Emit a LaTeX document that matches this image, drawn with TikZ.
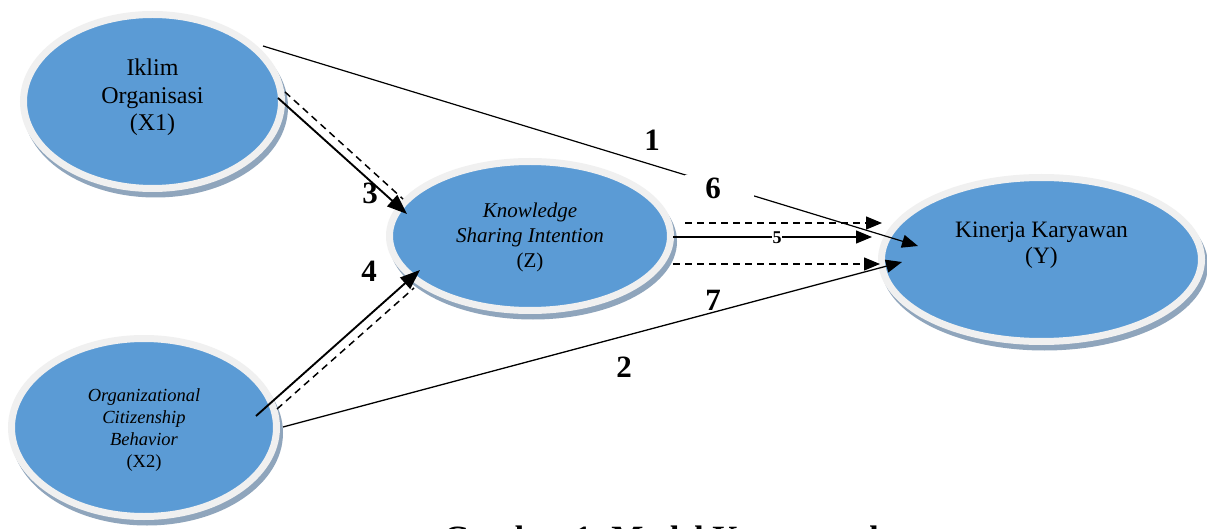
\documentclass[tikz,border=0pt]{standalone}
\usepackage{fontspec}
\setmainfont{Liberation Serif}
\usetikzlibrary{arrows.meta,shapes.geometric,calc}
\definecolor{ovalblue}{HTML}{5B9BD5}
\definecolor{rimgray}{HTML}{F0F0F0}
\definecolor{shadowc}{HTML}{8FA5BC}
\begin{document}
\begin{tikzpicture}[x=1pt,y=-1pt,
  oval/.style={ellipse, fill=ovalblue, draw=rimgray, line width=7pt, inner sep=0pt, outer sep=0pt},
  shadowfill/.style={fill=shadowc},
  txt/.style={align=center, inner sep=0pt, text=black},
  numlab/.style={inner sep=0pt, font=\fontsize{31}{31}\bfseries\selectfont},
  smalllab/.style={inner sep=0pt, font=\fontsize{18}{18}\bfseries\selectfont},
  tip/.style={-{Triangle[length=16pt,width=13pt]}},
  bigtip/.style={-{Triangle[length=20pt,width=15pt]}},
  conn/.style={line width=1.3pt},
  thickconn/.style={line width=1.9pt},
  dashconn/.style={line width=1.3pt, dash pattern=on 7pt off 5pt}
]
\useasboundingbox (0,0) rectangle (1207,529);
\clip (0,0) rectangle (1207,529);
\fill[white] (0,0) rectangle (1207,529);

% shadows
\fill[shadowfill] (155.5,107) ellipse [x radius=132.5, y radius=90.5];
\fill[shadowfill] (147,433) ellipse [x radius=136, y radius=92.5];
\fill[shadowfill] (533,241.5) ellipse [x radius=144, y radius=78];
\fill[shadowfill] (1044.5,265) ellipse [x radius=163.5, y radius=85.5];

% ovals
\node[oval, minimum width=258pt, minimum height=174pt] (x1) at (152.5,101.5) {};
\node[oval, minimum width=265pt, minimum height=178pt] (x2) at (144,427.5) {};
\node[oval, minimum width=281pt, minimum height=149pt] (z) at (530,236) {};
\node[oval, minimum width=320pt, minimum height=164pt] (y) at (1041.5,259.5) {};

% texts
\node[txt, font=\fontsize{24}{27.5}\selectfont] (x1t) at ($(x1.center)+(0,-4)$) {Iklim\\Organisasi\\(X1)};
\node[txt, font=\fontsize{18.5}{22}\selectfont] (x2t) at ($(x2.center)+(0,3)$) {\textit{Organizational}\\\textit{Citizenship}\\\textit{Behavior}\\(X2)};
\node[txt, font=\fontsize{21}{25}\selectfont] (zt) at ($(z.center)+(0,1)$) {\textit{Knowledge}\\\textit{Sharing Intention}\\(Z)};
\node[txt, font=\fontsize{23.5}{26}\selectfont] (yt) at ($(y.center)+(0,-14)$) {Kinerja Karyawan\\(Y)};

% connectors
\draw[conn, line width=1.2pt, tip] ($(x1.center)+(110.5,-55.5)$) -- ($(y.center)+(-123.5,-13.5)$);
\node[fill=white, inner sep=0pt, minimum width=69pt, minimum height=22pt] (g6) at (719.5,186) {};

\draw[dashconn, tip] ($(z.center)+(155,-13)$) -- ($(y.center)+(-159.5,-36.5)$);
\draw[conn, tip] ($(z.center)+(143,1)$) -- ($(y.center)+(-169.5,-22.5)$);
\draw[dashconn, tip] ($(z.center)+(143,28)$) -- ($(y.center)+(-161.5,4.5)$);
\draw[conn, tip] ($(x2.center)+(139,-0.5)$) -- ($(y.center)+(-139.5,2.5)$);

\draw[thickconn, bigtip] ($(x1.center)+(125.5,-3.5)$) -- ($(z.center)+(-123,-22)$);
\draw[dashconn, line width=1.5pt] ($(x1.center)+(132.5,-9.5)$) -- ($(z.center)+(-127,-37)$);
\draw[thickconn, bigtip] ($(x2.center)+(112,-11.5)$) -- ($(z.center)+(-110,34)$);
\draw[dashconn, line width=1.5pt] ($(x2.center)+(133,-18.5)$) -- ($(z.center)+(-116,52)$);

% labels
\node[numlab] (l1) at (652,140) {1};
\node[numlab] (l6) at (713,188) {6};
\node[smalllab, fill=white, inner sep=0.5pt] (l5) at (777,238) {5};
\node[numlab] (l7) at (713,300) {7};
\node[numlab] (l2) at (624,367) {2};
\node[numlab] (l3) at (370,193) {3};
\node[numlab] (l4) at (369,271) {4};

% caption (cut by the page edge)
\node[anchor=base, inner sep=0pt, font=\fontsize{34}{34}\bfseries\selectfont] (cap) at (661,549) {Gambar 1. Model Konseptual};
\end{tikzpicture}
\end{document}
